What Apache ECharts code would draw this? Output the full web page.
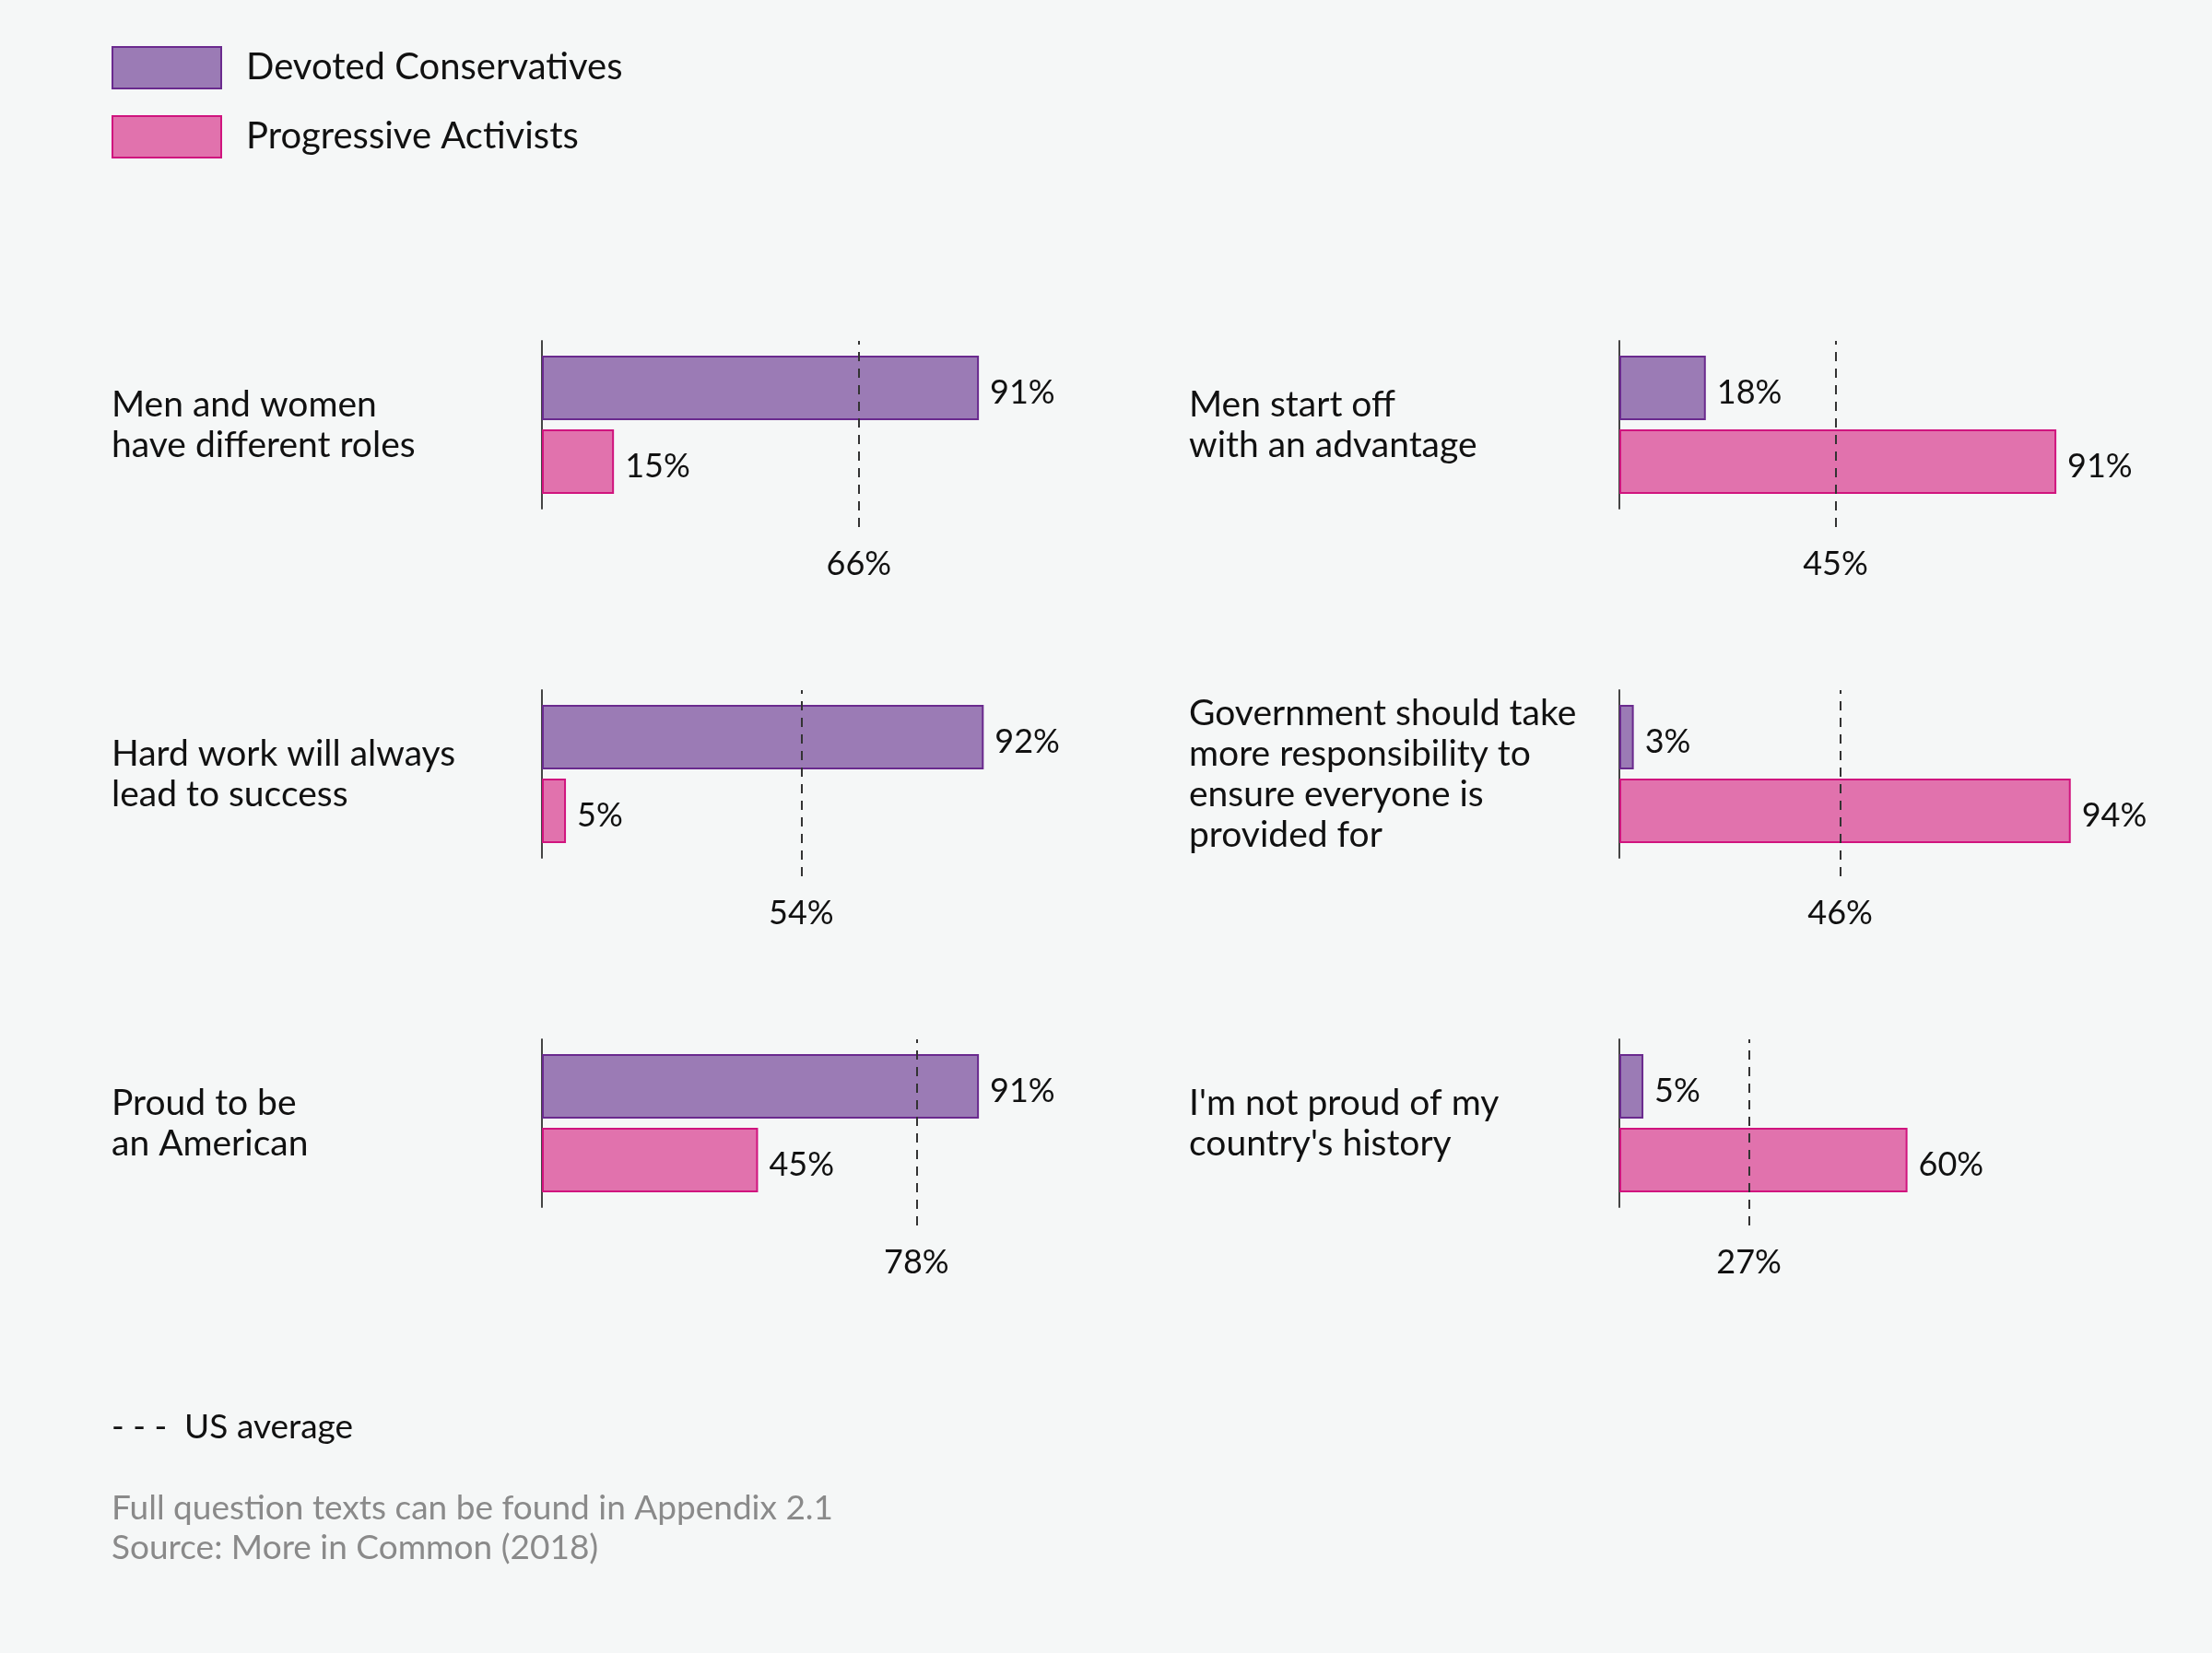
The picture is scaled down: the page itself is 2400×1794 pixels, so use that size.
<!DOCTYPE html>
<html>
<head>
<meta charset="utf-8">
<script src="https://cdn.jsdelivr.net/npm/echarts@6/dist/echarts.min.js"></script>
<style>
html,body{margin:0;padding:0;background:#f5f7f7;}
#chart{width:2400px;height:1794px;}
</style>
</head>
<body>
<div id="chart"></div>
<script>
// ---- data ----
const questions = [
  'Men and women\nhave different roles',
  'Men start off\nwith an advantage',
  'Hard work will always\nlead to success',
  'Government should take\nmore responsibility to\nensure everyone is\nprovided for',
  'Proud to be\nan American',
  "I'm not proud of my\ncountry's history"
];
const devotedConservatives = [91, 18, 92, 3, 91, 5];
const progressiveActivists = [15, 91, 5, 94, 45, 60];
const usAverage = [66, 45, 54, 46, 78, 27];
const seriesNames = ['Devoted Conservatives', 'Progressive Activists'];

// ---- layout ----
const FONT = 'Lato';
const colLeft = [588, 1757];
const rowTop = [370, 749, 1128];
const plotW = 521, plotH = 182, dashExtra = 20;

const grids = [], xAxes = [], yAxes = [], series = [];
questions.forEach((q, i) => {
  const left = colLeft[i % 2], top = rowTop[Math.floor(i / 2)];
  grids.push({left: left, top: top, width: plotW, height: plotH});
  xAxes.push({type: 'value', gridIndex: i, min: 0, max: 100, show: false});
  yAxes.push({
    type: 'category', gridIndex: i, data: [q], inverse: true,
    axisLine: {show: true, lineStyle: {color: '#444', width: 2}},
    axisTick: {show: false},
    axisLabel: {align: 'left', margin: 467, fontFamily: FONT, fontSize: 39, lineHeight: 44, color: '#111', padding: [18, 0, 0, 0]}
  });
  const lbl = {show: true, position: 'right', distance: 12, offset: [0, 5], formatter: '{c}%', fontFamily: FONT, fontSize: 36, color: '#111'};
  series.push({
    type: 'bar', name: seriesNames[0], xAxisIndex: i, yAxisIndex: i,
    data: [devotedConservatives[i]], barWidth: 70, barGap: '14%',
    itemStyle: {color: '#9b7bb5', borderColor: '#6a2a8e', borderWidth: 2},
    label: lbl
  });
  series.push({
    type: 'bar', name: seriesNames[1], xAxisIndex: i, yAxisIndex: i,
    data: [progressiveActivists[i]], barWidth: 70, barGap: '14%',
    itemStyle: {color: '#e172ad', borderColor: '#d0147e', borderWidth: 2},
    label: lbl
  });
});
// separate taller grids for the US-average dashed lines
questions.forEach((q, i) => {
  const left = colLeft[i % 2], top = rowTop[Math.floor(i / 2)];
  const g = grids.length;
  grids.push({left: left, top: top, width: plotW, height: plotH + dashExtra});
  xAxes.push({type: 'value', gridIndex: g, min: 0, max: 100, show: false});
  yAxes.push({type: 'value', gridIndex: g, min: 0, max: 1, show: false});
  series.push({
    type: 'line', name: 'US average', xAxisIndex: g, yAxisIndex: g, data: [],
    markLine: {
      silent: true, symbol: ['none', 'none'],
      lineStyle: {type: [10, 8], color: '#333', width: 2},
      label: {show: true, position: 'start', distance: 22, formatter: '{c}%', fontFamily: FONT, fontSize: 36, color: '#111'},
      data: [{xAxis: usAverage[i]}]
    }
  });
});

const chart = echarts.init(document.getElementById('chart'), null, {renderer: 'canvas'});
chart.setOption({
  backgroundColor: '#f5f7f7',
  animation: false,
  legend: {
    data: seriesNames, orient: 'vertical', left: 121, top: 50, padding: 0,
    itemWidth: 118, itemHeight: 45, itemGap: 28, icon: 'rect',
    selectedMode: false,
    textStyle: {fontFamily: FONT, fontSize: 40, color: '#111', padding: [0, 0, 0, 22]}
  },
  title: [
    {text: '- - -  US average', left: 121, top: 1531, padding: 0, textStyle: {fontFamily: FONT, fontSize: 37, fontWeight: 'normal', color: '#111'}},
    {text: 'Full question texts can be found in Appendix 2.1\nSource: More in Common (2018)', left: 121, top: 1616, padding: 0,
     textStyle: {fontFamily: FONT, fontSize: 37, fontWeight: 'normal', color: '#8a8a8a', lineHeight: 43}}
  ],
  grid: grids, xAxis: xAxes, yAxis: yAxes, series: series
});
</script>
</body>
</html>
